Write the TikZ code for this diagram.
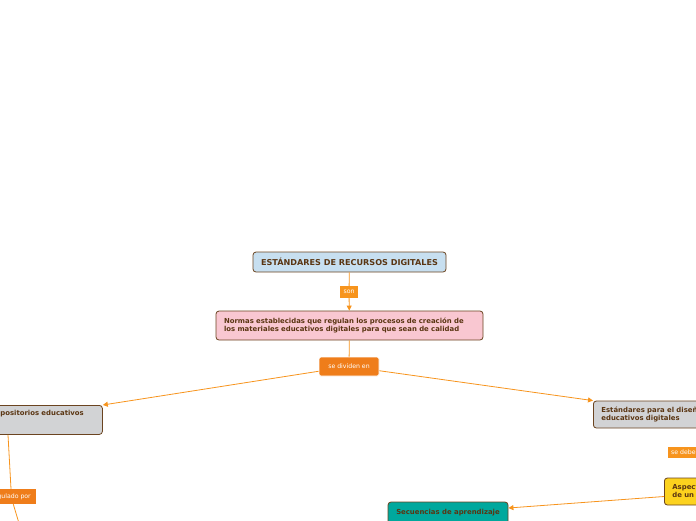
\documentclass[tikz,border=0pt]{standalone}
\usepackage{fontspec}
\setmainfont{DejaVu Sans}
\usepackage{tikz}
\usetikzlibrary{arrows.meta, positioning}
\definecolor{linkline}{HTML}{F7941D}
\definecolor{linkfill}{HTML}{EF7D1A}
\definecolor{linklight}{HTML}{F7941D}
\definecolor{boxedge}{HTML}{6B4420}
\definecolor{boxtext}{HTML}{5A3512}
\definecolor{titlefill}{HTML}{C7DFF0}
\definecolor{pinkfill}{HTML}{F9C7D1}
\definecolor{greyfill}{HTML}{D2D3D5}
\definecolor{yellowfill}{HTML}{FCD21E}
\definecolor{tealfill}{HTML}{00A89D}
\tikzset{
	topicbox/.style={draw=boxedge, line width=0.8pt, rounded corners=3pt, fill=#1, text=boxtext, inner xsep=8pt, inner ysep=3pt, font=\fontsize{6.9}{8}\selectfont\bfseries},
	linkbox/.style={fill=#1, text=white, inner xsep=3pt, inner ysep=2pt, font=\fontsize{6.2}{7}\selectfont},
	linkarr/.style={-{Triangle[length=5pt, width=5pt]}, linkline, line width=0.8pt},
	linkseg/.style={linkline, line width=0.8pt},
}
\begin{document}
\begin{tikzpicture}[x=1pt, y=-1pt]
	\useasboundingbox (0,0) rectangle (696,520);
	\clip (0,0) rectangle (696,520);
	% Main topic and definition
	\node[topicbox=titlefill, minimum width=193pt, minimum height=20pt, font=\fontsize{8.1}{9}\selectfont\bfseries] (title) at (349.5,262) {ESTÁNDARES DE RECURSOS DIGITALES};
	\node[linkbox=linklight, minimum width=18pt, minimum height=12pt] (son) at (349,292) {son};
	\node[topicbox=pinkfill, text width=251pt, minimum height=29pt, align=left] (normas) at (349.5,325.5) {Normas establecidas que regulan los procesos de creación de\\los materiales educativos digitales para que sean de calidad};
	\node[linkbox=linkfill, draw=white, line width=0.8pt, rounded corners=1.5pt, minimum width=60pt, minimum height=19pt] (divide) at (349,366.5) {se dividen en};
	% Branches
	\node[topicbox=greyfill, anchor=north west, text width=104pt, align=left, text height=6pt, text depth=15pt, inner ysep=4pt] (repo) at (-18,405) {Repositorios educativos};
	\node[topicbox=greyfill, anchor=west, text width=160pt, align=left, minimum height=27pt] (estandar) at (593,414.5) {Estándares para el diseño de recursos\\educativos digitales};
	\node[linkbox=linkfill, minimum width=50pt, minimum height=15pt] (regulado) at (11,496.5) {regulado por};
	\node[linkbox=linklight, anchor=west, minimum height=11pt, inner ysep=1pt] (deben) at (668,452.5) {se deben};
	\node[topicbox=yellowfill, anchor=west, text width=90pt, align=left, minimum height=27pt] (aspectos) at (664,491.5) {Aspectos\\de un recurso};
	\node[topicbox=tealfill, minimum width=120pt, minimum height=22pt] (secuencia) at (448,513) {Secuencias de aprendizaje};
	\coordinate (offbottom) at (24,540);
	% Connectors
	\draw[linkseg] (title) -- (son);
	\draw[linkarr] (son) -- (normas);
	\draw[linkseg] (normas) -- (divide);
	\draw[linkarr] (divide) -- (repo.north east);
	\draw[linkarr] (divide) -- (estandar.north west);
	\draw[linkseg] ([xshift=26pt]repo.south west) -- (regulado.north);
	\draw[linkseg] (regulado) -- (offbottom);
	\draw[linkarr] ([yshift=-5pt]aspectos.west) -- ([yshift=5pt]secuencia.east);
\end{tikzpicture}
\end{document}
